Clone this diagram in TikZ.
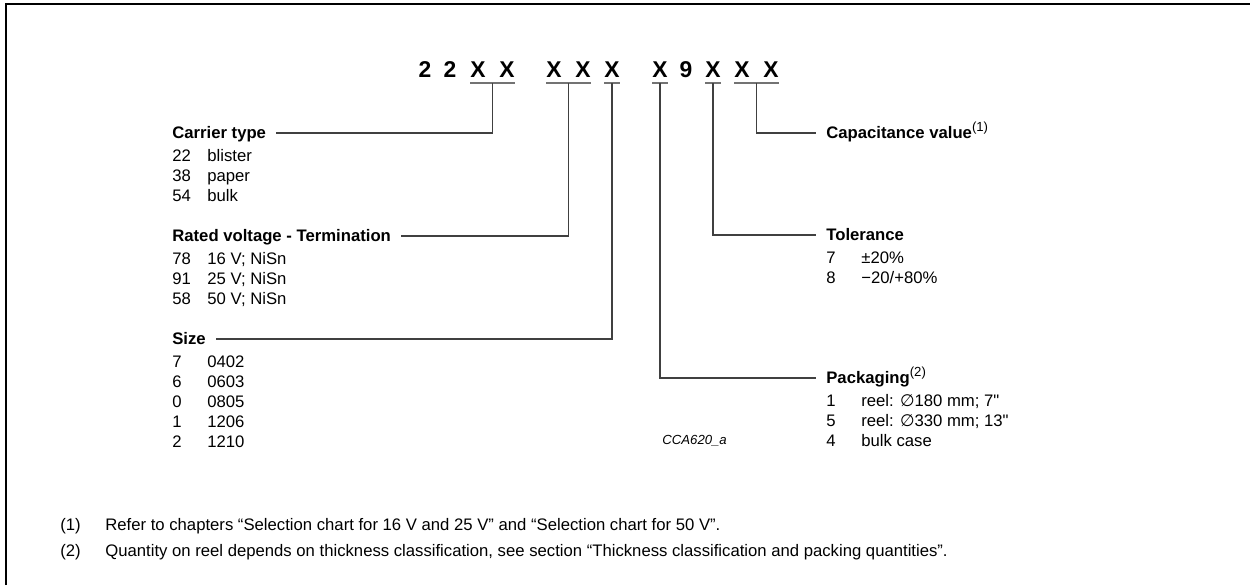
\documentclass[tikz,border=0pt]{standalone}
\usepackage{fontspec}
\setmainfont{Liberation Sans}
\newfontfamily\symfont{DejaVu Sans}
\usetikzlibrary{calc}

\newcommand\bodyfont{\fontsize{9.5}{11.4}\selectfont}
\newcommand\fnref[1]{\raisebox{0.75ex}{\normalfont\fontsize{7.5}{8}\selectfont(#1)}}

\begin{document}
\begin{tikzpicture}[
    x=0.02cm, y=-0.02cm,
    every node/.style={font=\bodyfont},
    code/.style={font=\bfseries\fontsize{13}{13}\selectfont, inner sep=0pt, anchor=base},
    head/.style={font=\bodyfont\bfseries, anchor=west, inner xsep=0.2cm, inner ysep=0pt, text height=1.1ex, text depth=0pt},
    item/.style={inner sep=0pt, anchor=base west},
    uline/.style={line width=0.8pt, black!55},
    conn/.style={line width=0.6pt, black!75}
]
    \useasboundingbox (0,0) rectangle (1250,585);
    \draw[line width=1.2pt] (6,585) -- (6,4) -- (1250,4);

    % type code
    \foreach \ch/\px [count=\i] in {2/425, 2/450, X/478, X/507, X/554, X/583, X/612, X/660, 9/686, X/713, X/742, X/771}
        \node[code] (c\i) at (\px,77) {\ch};

    \foreach \a/\b/\u in {3/4/ct, 5/6/rv, 7/7/sz, 8/8/pk, 10/10/tl, 11/12/cv}
        \draw[uline] ([yshift=-0.12cm]c\a.base west) -- coordinate[midway] (u\u) ([yshift=-0.12cm]c\b.base east);

    % headings
    \node[head] (carrier) at (162,133) {Carrier type};
    \node[head] (rated) at (162,236) {Rated voltage - Termination};
    \node[head] (size) at (162,339) {Size};
    \node[head] (capval) at (816,133) {Capacitance value\fnref{1}};
    \node[head] (toler) at (816,235) {Tolerance};
    \node[head] (packg) at (816,378) {Packaging\fnref{2}};

    \draw[conn] (uct) |- (carrier.east);
    \draw[conn] (urv) |- (rated.east);
    \draw[conn] (usz) |- (size.east);
    \draw[conn] (upk) |- (packg.west);
    \draw[conn] (utl) |- (toler.west);
    \draw[conn] (ucv) |- (capval.west);

    % lists
    \foreach \n/\v [count=\i] in {22/blister, 38/paper, 54/bulk} {
        \node[item] (ctn\i) at (172,141+20*\i) {\n};
        \node[item] (ctv\i) at (207,141+20*\i) {\v};
    }
    \foreach \n/\v [count=\i] in {78/16 V; NiSn, 91/25 V; NiSn, 58/50 V; NiSn} {
        \node[item] (rvn\i) at (172,244+20*\i) {\n};
        \node[item] (rvv\i) at (207,244+20*\i) {\v};
    }
    \foreach \n/\v [count=\i] in {7/0402, 6/0603, 0/0805, 1/1206, 2/1210} {
        \node[item] (szn\i) at (172,347+20*\i) {\n};
        \node[item] (szv\i) at (207,347+20*\i) {\v};
    }
    \foreach \n/\v [count=\i] in {7/{±20\%}, 8/{−20/+80\%}} {
        \node[item] (tln\i) at (826,243+20*\i) {\n};
        \node[item] (tlv\i) at (861,243+20*\i) {\v};
    }
    \foreach \n/\v [count=\i] in {1/{reel: {\symfont ∅}180 mm; 7\textquotedbl}, 5/{reel: {\symfont ∅}330 mm; 13\textquotedbl}, 4/{bulk case}} {
        \node[item] (pkn\i) at (826,386+20*\i) {\n};
        \node[item] (pkv\i) at (861,386+20*\i) {\v};
    }

    \node[item, font=\itshape\fontsize{7.5}{9}\selectfont] (figno) at (662,444) {CCA620\_a};

    % notes
    \node[item] (fn1n) at (60,530) {(1)};
    \node[item] (fn1) at (105,530) {Refer to chapters “Selection chart for 16 V and 25 V” and “Selection chart for 50 V”.};
    \node[item] (fn2n) at (60,556) {(2)};
    \node[item] (fn2) at (105,556) {Quantity on reel depends on thickness classification, see section “Thickness classification and packing quantities”.};
\end{tikzpicture}
\end{document}
